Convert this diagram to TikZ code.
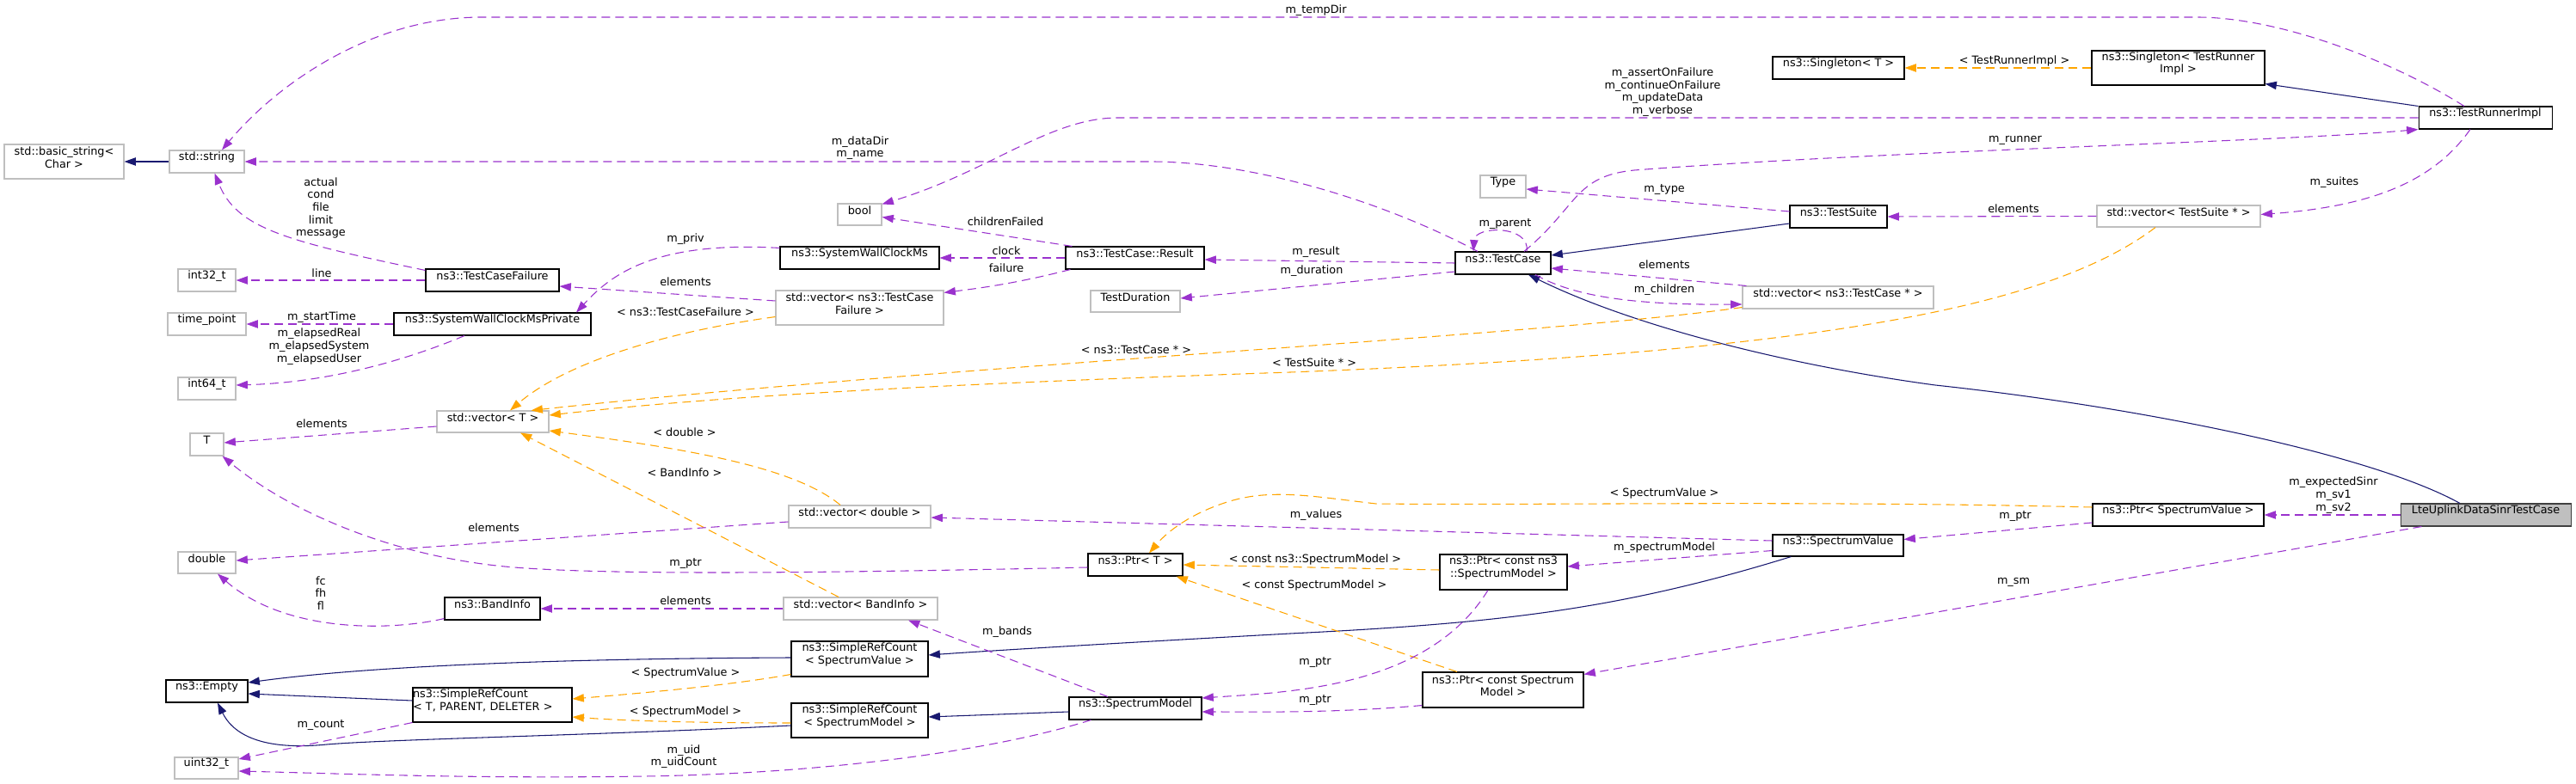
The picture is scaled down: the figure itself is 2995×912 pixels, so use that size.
\documentclass[tikz,border=0pt]{standalone}
\usepackage{fontspec}
\setmainfont{DejaVu Sans}
\usetikzlibrary{arrows.meta,fit,calc}
\definecolor{purp}{HTML}{9A32CD}
\definecolor{orng}{HTML}{FFA500}
\definecolor{navyc}{HTML}{191970}
\definecolor{bgray}{HTML}{BFBFBF}
\definecolor{dgray}{HTML}{404040}
\tikzset{
  box/.style={draw=black, line width=0.8pt, inner sep=0pt, fill=white, align=center},
  gbox/.style={box, draw=bgray},
  lbl/.style={inner sep=0pt, align=center},
  inh/.style={draw=navyc, line width=0.8pt, -{Triangle[length=10pt,width=7pt,fill=navyc]}},
  use/.style={draw=purp, line width=0.8pt, dash pattern=on 7.5pt off 4.5pt, -{Triangle[length=10pt,width=7pt,fill=purp]}},
  tpl/.style={draw=orng, line width=0.8pt, dash pattern=on 7.5pt off 4.5pt, -{Triangle[length=10pt,width=7pt,fill=orng]}},
}
\begin{document}
\begin{tikzpicture}[x=0.75pt,y=-0.75pt,font=\fontsize{9.6}{11}\selectfont]
\useasboundingbox (0,0) rectangle (2995,912);
% ---------- nodes ----------
\node[gbox, fit={(5,168)(144,208)}] (bstr) {std::basic\_string\textless\\Char \textgreater};
\node[gbox, fit={(197,175)(284,201)}] (str) {std::string};
\node[gbox, fit={(207,313)(274,339)}] (i32) {int32\_t};
\node[box, fit={(495,313)(650,339)}] (tcf) {ns3::TestCaseFailure};
\node[gbox, fit={(195,364)(286,390)}] (tp) {time\_point};
\node[box, fit={(458,364)(687,390)}] (swcp) {ns3::SystemWallClockMsPrivate};
\node[gbox, fit={(207,439)(274,465)}] (i64) {int64\_t};
\node[gbox, fit={(508,478)(638,503)}] (vecT) {std::vector\textless{} T \textgreater};
\node[gbox, fit={(221,504)(260,530)}] (T) {T};
\node[gbox, fit={(207,642)(274,667)}] (dbl) {double};
\node[box, fit={(517,695)(628,721)}] (band) {ns3::BandInfo};
\node[box, fit={(193,791)(288,817)}] (empty) {ns3::Empty};
\node[box, fit={(480,800)(665,840)}, align=left] (srcT) {ns3::SimpleRefCount\\\textless{} T, PARENT, DELETER \textgreater};
\node[gbox, fit={(203,881)(277,906)}] (u32) {uint32\_t};
\node[gbox, fit={(974,237)(1025,262)}] (bool) {bool};
\node[box, fit={(907,287)(1092,313)}] (swc) {ns3::SystemWallClockMs};
\node[box, fit={(1239,287)(1400,313)}] (res) {ns3::TestCase::Result};
\node[gbox, fit={(902,338)(1097,378)}] (vtcf) {std::vector\textless{} ns3::TestCase\\Failure \textgreater};
\node[gbox, fit={(1268,338)(1372,363)}] (tdur) {TestDuration};
\node[gbox, fit={(917,588)(1082,614)}] (vdbl) {std::vector\textless{} double \textgreater};
\node[box, fit={(1265,644)(1375,670)}] (ptrT) {ns3::Ptr\textless{} T \textgreater};
\node[gbox, fit={(911,695)(1090,721)}] (vband) {std::vector\textless{} BandInfo \textgreater};
\node[box, fit={(920,746)(1079,787)}] (srcSV) {ns3::SimpleRefCount\\\textless{} SpectrumValue \textgreater};
\node[box, fit={(920,818)(1079,858)}] (srcSM) {ns3::SimpleRefCount\\\textless{} SpectrumModel \textgreater};
\node[box, fit={(1243,811)(1397,837)}] (sm) {ns3::SpectrumModel};
\node[box, fit={(1674,645)(1822,686)}] (pcnsm) {ns3::Ptr\textless{} const ns3\\::SpectrumModel \textgreater};
\node[box, fit={(2061,622)(2213,647)}] (sv) {ns3::SpectrumValue};
\node[box, fit={(1654,782)(1841,823)}] (pcsm) {ns3::Ptr\textless{} const Spectrum\\Model \textgreater};
\node[box, fit={(1692,293)(1803,319)}] (tc) {ns3::TestCase};
\node[gbox, fit={(1721,204)(1774,230)}] (type) {Type};
\node[box, fit={(2081,239)(2194,265)}] (ts) {ns3::TestSuite};
\node[box, fit={(2061,66)(2214,92)}] (sgT) {ns3::Singleton\textless{} T \textgreater};
\node[gbox, fit={(2026,333)(2248,359)}] (vtc) {std::vector\textless{} ns3::TestCase * \textgreater};
\node[box, fit={(2432,59)(2633,99)}] (sgTRI) {ns3::Singleton\textless{} TestRunner\\Impl \textgreater};
\node[box, fit={(2812,124)(2967,150)}] (tri) {ns3::TestRunnerImpl};
\node[gbox, fit={(2438,239)(2628,264)}] (vts) {std::vector\textless{} TestSuite * \textgreater};
\node[box, fit={(2433,586)(2632,612)}] (psv) {ns3::Ptr\textless{} SpectrumValue \textgreater};
\node[box, draw=dgray, fill=bgray, fit={(2791,586)(2989,612)}] (lte) {LteUplinkDataSinrTestCase};
% ---------- inheritance ----------
\draw[inh] (str.west) -- (bstr.east);
\draw[inh] ($(srcT.west)+(0,-5)$) -- ($(empty.east)+(0,3)$);
\draw[inh] ($(srcSV.west)+(0,-1.5)$) .. controls (700,766) and (450,772) .. ($(empty.east)+(0,-10)$);
\draw[inh] ($(srcSM.west)+(0,6)$) .. controls (700,855) and (450,860) .. (380,866) .. controls (320,872) and (275,862) .. ($(empty.south)+(12.5,0)$);
\draw[inh] ($(sv.south west)+(22,0)$) .. controls (1880,710) and (1740,725) .. (1500,737) .. controls (1300,748) and (1150,757) .. ($(srcSV.east)+(0,-4.5)$);
\draw[inh] ($(sm.west)+(0,4)$) -- ($(srcSM.east)+(0,-4)$);
\draw[inh] ($(ts.west)+(0,8)$) -- ($(tc.east)+(0,-9)$);
\draw[inh] (tri.north west) -- ($(sgTRI.south east)+(0,-2)$);
\draw[inh] ($(lte.north)+(-30,0)$) .. controls (2760,530) and (2500,475) .. (2250,448) .. controls (2080,425) and (1900,380) .. ($(tc.south)+(29.5,0)$);
% ---------- templates ----------
\draw[tpl] ($(vtcf.south west)+(0,-10)$) .. controls (780,385) and (660,420) .. ($(vecT.north)+(20,0)$);
\draw[tpl] ($(vtc.south west)+(0,-2)$) .. controls (1800,390) and (1100,425) .. ($(vecT.north east)+(-21,0)$);
\draw[tpl] ($(vts.south)+(-27,0)$) .. controls (2380,360) and (2100,410) .. (1500,433) .. controls (1000,450) and (800,465) .. ($(vecT.east)+(0,-7.5)$);
\draw[tpl] ($(vdbl.north)+(-22.5,0)$) .. controls (920,540) and (780,520) .. ($(vecT.east)+(0,10.5)$);
\draw[tpl] ($(vband.north)+(-25.5,0)$) -- ($(vecT.south)+(32,0)$);
\draw[tpl] ($(srcSV.west)+(0,18)$) .. controls (850,797) and (750,806) .. ($(srcT.east)+(0,-7)$);
\draw[tpl] ($(srcSM.west)+(0,3)$) .. controls (800,841) and (720,838) .. ($(srcT.east)+(0,14)$);
\draw[tpl] ($(pcnsm.west)+(0,-2.5)$) -- (ptrT.east);
\draw[tpl] ($(pcsm.north)+(-53.5,0)$) -- ($(ptrT.south east)+(-8,0)$);
\draw[tpl] ($(psv.west)+(0,-9)$) .. controls (2100,582) and (1800,588) .. (1600,586) .. controls (1530,578) and (1480,568) .. (1430,583) .. controls (1390,595) and (1360,615) .. ($(ptrT.north)+(16,0)$);
\draw[tpl] (sgTRI.west) -- (sgT.east);
% ---------- usage ----------
\draw[use] ($(tri.north)+(-24.5,0)$) .. controls (2780,70) and (2650,20) .. (2554,20) -- (560,20) .. controls (430,20) and (320,100) .. ($(str.north)+(17.5,0)$);
\draw[use] ($(tc.north)+(-29.5,0)$) .. controls (1600,230) and (1450,188) .. (1338,188) -- (str.east);
\draw[use] ($(tcf.north west)+(0,2)$) .. controls (330,280) and (275,265) .. ($(str.south)+(9,0)$);
\draw[use] (tcf.west) -- (i32.east);
\draw[use] ($(vtcf.west)+(0,-8)$) -- ($(tcf.east)+(0,7)$);
\draw[use] ($(swc.north west)+(0,2)$) .. controls (760,280) and (710,320) .. ($(swcp.north)+(97.5,0)$);
\draw[use] (swcp.west) -- (tp.east);
\draw[use] ($(swcp.south)+(-32.5,0)$) .. controls (470,420) and (380,445) .. ($(i64.east)+(0,-4)$);
\draw[use] ($(res.north west)+(8,0)$) -- ($(bool.east)+(0,3)$);
\draw[use] (res.west) -- (swc.east);
\draw[use] ($(res.south west)+(6,0)$) .. controls (1180,330) and (1140,335) .. ($(vtcf.north east)+(0,3)$);
\draw[use] (tri.west) -- (1300,137) .. controls (1220,137) and (1150,200) .. ($(bool.north east)+(0,1)$);
\draw[use] (tc.west) -- ($(res.east)+(0,2)$);
\draw[use] ($(tc.west)+(0,10)$) -- ($(tdur.east)+(0,-3.5)$);
\draw[use] ($(ptrT.west)+(0,3)$) .. controls (900,668) and (700,668) .. (598,660) .. controls (450,648) and (330,590) .. ($(T.south east)+(-2,0)$);
\draw[use] ($(vecT.west)+(0,5.5)$) -- ($(T.east)+(0,-2)$);
\draw[use] ($(vdbl.west)+(0,6)$) -- ($(dbl.east)+(0,-2.5)$);
\draw[use] ($(band.south west)+(0,-2)$) .. controls (450,735) and (330,735) .. ($(dbl.south)+(12.5,0)$);
\draw[use] (vband.west) -- (band.east);
\draw[use] (srcT.south west) -- ($(u32.east)+(0,-10.5)$);
\draw[use] ($(sm.south west)+(26,0)$) .. controls (1150,875) and (950,900) .. (750,903) .. controls (550,906) and (400,900) .. ($(u32.east)+(0,3.5)$);
\draw[use] ($(sm.north)+(-32,0)$) -- ($(vband.south)+(55.5,0)$);
\draw[use] ($(sv.west)+(0,-5.5)$) -- ($(vdbl.east)+(0,1)$);
\draw[use] ($(sv.west)+(0,6)$) -- ($(pcnsm.east)+(0,-6.5)$);
\draw[use] ($(pcnsm.south)+(-18,0)$) .. controls (1660,800) and (1500,805) .. ($(sm.east)+(0,-12)$);
\draw[use] ($(pcsm.south west)+(0,-3)$) .. controls (1550,830) and (1450,828) .. ($(sm.east)+(0,4)$);
\draw[use] ($(psv.west)+(0,9)$) -- ($(sv.east)+(0,-7)$);
\draw[use] (lte.west) -- (psv.east);
\draw[use] ($(lte.south west)+(25,0)$) -- ($(pcsm.north east)+(0,3)$);
\draw[use] ($(tc.north)+(27.5,0)$) .. controls (1780,262) and (1715,262) .. ($(tc.north)+(-34.5,0)$);
\draw[use] ($(tc.north)+(24.5,0)$) .. controls (1835,240) and (1830,205) .. (1900,198) .. controls (2200,175) and (2650,165) .. (tri.south west);
\draw[use] ($(ts.west)+(0,-6)$) -- ($(type.east)+(0,3)$);
\draw[use] ($(vtc.north west)+(5,0)$) -- ($(tc.east)+(0,6)$);
\draw[use] ($(tc.south)+(37.5,0)$) .. controls (1830,345) and (1900,355) .. ($(vtc.west)+(0,8)$);
\draw[use] (vts.west) -- (ts.east);
\draw[use] ($(tri.south)+(-17.5,0)$) .. controls (2830,210) and (2760,240) .. ($(vts.east)+(0,-2)$);
% ---------- labels ----------
\node[lbl] (l1) at (1530,12) {m\_tempDir};
\node[lbl] (l2) at (1000,172) {m\_dataDir\\m\_name};
\node[lbl] (l3) at (373,242) {actual\\cond\\file\\limit\\message};
\node[lbl] (l4) at (374,318) {line};
\node[lbl] (l5) at (797,328) {elements};
\node[lbl] (l6) at (797,278) {m\_priv};
\node[lbl] (l7) at (374,369) {m\_startTime};
\node[lbl] (l8) at (371,403) {m\_elapsedReal\\m\_elapsedSystem\\m\_elapsedUser};
\node[lbl] (l9) at (374,493) {elements};
\node[lbl] (l10) at (797,656) {m\_ptr};
\node[lbl] (l11) at (574,614) {elements};
\node[lbl] (l12) at (373,690) {fc\\fh\\fl};
\node[lbl] (l13) at (797,699) {elements};
\node[lbl] (l14) at (373,844) {m\_count};
\node[lbl] (l15) at (795,880) {m\_uid\\m\_uidCount};
\node[lbl] (l16) at (1933,107) {m\_assertOnFailure\\m\_continueOnFailure\\m\_updateData\\m\_verbose};
\node[lbl] (l17) at (1169,258) {childrenFailed};
\node[lbl] (l18) at (1170,292) {clock};
\node[lbl] (l19) at (1170,312) {failure};
\node[lbl] (l20) at (1530,293) {m\_result};
\node[lbl] (l21) at (1525,315) {m\_duration};
\node[lbl] (l22) at (797,363) {\textless{} ns3::TestCaseFailure \textgreater};
\node[lbl] (l23) at (1321,407) {\textless{} ns3::TestCase * \textgreater};
\node[lbl] (l24) at (1528,422) {\textless{} TestSuite * \textgreater};
\node[lbl] (l25) at (796,503) {\textless{} double \textgreater};
\node[lbl] (l26) at (796,550) {\textless{} BandInfo \textgreater};
\node[lbl] (l27) at (1171,735) {m\_bands};
\node[lbl] (l28) at (797,783) {\textless{} SpectrumValue \textgreater};
\node[lbl] (l29) at (797,828) {\textless{} SpectrumModel \textgreater};
\node[lbl] (l30) at (1529,651) {\textless{} const ns3::SpectrumModel \textgreater};
\node[lbl] (l31) at (1528,681) {\textless{} const SpectrumModel \textgreater};
\node[lbl] (l32) at (1935,574) {\textless{} SpectrumValue \textgreater};
\node[lbl] (l33) at (1530,599) {m\_values};
\node[lbl] (l34) at (1935,637) {m\_spectrumModel};
\node[lbl] (l35) at (1529,771) {m\_ptr};
\node[lbl] (l36) at (1529,815) {m\_ptr};
\node[lbl] (l37) at (2341,677) {m\_sm};
\node[lbl] (l38) at (2343,601) {m\_ptr};
\node[lbl] (l39) at (2713,576) {m\_expectedSinr\\m\_sv1\\m\_sv2};
\node[lbl] (l40) at (1750,261) {m\_parent};
\node[lbl] (l41) at (1935,221) {m\_type};
\node[lbl] (l42) at (1935,308) {elements};
\node[lbl] (l43) at (1935,337) {m\_children};
\node[lbl] (l44) at (2343,163) {m\_runner};
\node[lbl] (l45) at (2341,243) {elements};
\node[lbl] (l46) at (2342,71) {\textless{} TestRunnerImpl \textgreater};
\node[lbl] (l47) at (2714,212) {m\_suites};
\end{tikzpicture}
\end{document}
